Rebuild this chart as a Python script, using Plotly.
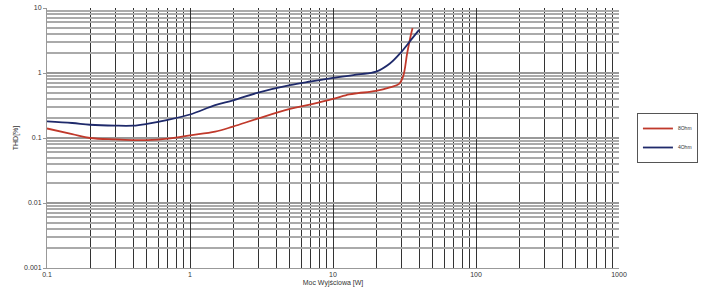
import plotly.graph_objects as go

x_8ohm = [0.1, 0.15, 0.2, 0.3, 0.4, 0.5, 0.7, 1, 1.5, 2, 3, 5, 7, 10, 13, 15, 20, 25, 29, 31, 33, 35, 36]
y_8ohm = [0.14, 0.115, 0.10, 0.095, 0.093, 0.093, 0.098, 0.11, 0.125, 0.15, 0.2, 0.28, 0.33, 0.40, 0.47, 0.49, 0.53, 0.6, 0.68, 0.9, 2.0, 3.8, 4.9]

x_4ohm = [0.1, 0.15, 0.2, 0.3, 0.4, 0.5, 0.7, 1, 1.5, 2, 3, 5, 7, 10, 15, 20, 25, 30, 35, 40]
y_4ohm = [0.18, 0.17, 0.16, 0.155, 0.155, 0.165, 0.19, 0.23, 0.32, 0.38, 0.5, 0.65, 0.74, 0.84, 0.95, 1.05, 1.4, 2.1, 3.2, 4.6]

x_ticks = [0.1, 1, 10, 100, 1000]
x_labels = ["0.1", "1", "10", "100", "1000"]
y_ticks = [0.001, 0.01, 0.1, 1, 10]
y_labels = ["0.001", "0.01", "0.1", "1", "10"]

fig = go.Figure()
fig.add_trace(go.Scatter(x=x_8ohm, y=y_8ohm, mode="lines", name="8Ohm",
                         line=dict(color="#c0392b", width=1.8, shape="spline")))
fig.add_trace(go.Scatter(x=x_4ohm, y=y_4ohm, mode="lines", name="4Ohm",
                         line=dict(color="#1f2a6b", width=1.8, shape="spline")))

fig.update_layout(
    width=705, height=291,
    margin=dict(l=47, r=86, t=8, b=23, autoexpand=False),
    paper_bgcolor="white", plot_bgcolor="white",
    font=dict(family="Liberation Sans, Arial", size=7, color="#333"),
    legend=dict(x=1.138, y=0.5, xanchor="right", yanchor="middle",
                bordercolor="#555", borderwidth=1, font=dict(size=5),
                itemwidth=30, tracegroupgap=0),
    xaxis=dict(type="log", range=[-1, 3], tickvals=x_ticks, ticktext=x_labels,
               showgrid=True, gridcolor="#333", gridwidth=1.3,
               minor=dict(dtick="D1", showgrid=True, gridcolor="#333", gridwidth=1.3),
               showline=True, linecolor="#999", linewidth=1, ticks="", zeroline=False,
               title=dict(text="Moc Wyjściowa [W]", font=dict(size=7), standoff=2)),
    yaxis=dict(type="log", range=[-3, 1], tickvals=y_ticks, ticktext=y_labels,
               showgrid=True, gridcolor="#999", gridwidth=2,
               minor=dict(dtick="D1", showgrid=True, gridcolor="#aaa", gridwidth=2),
               showline=True, linecolor="#999", linewidth=1, ticks="outside", ticklen=3,
               tickcolor="#999", zeroline=False,
               title=dict(text="THD[%]", font=dict(size=7), standoff=4)),
)

fig.write_html("out.html")
